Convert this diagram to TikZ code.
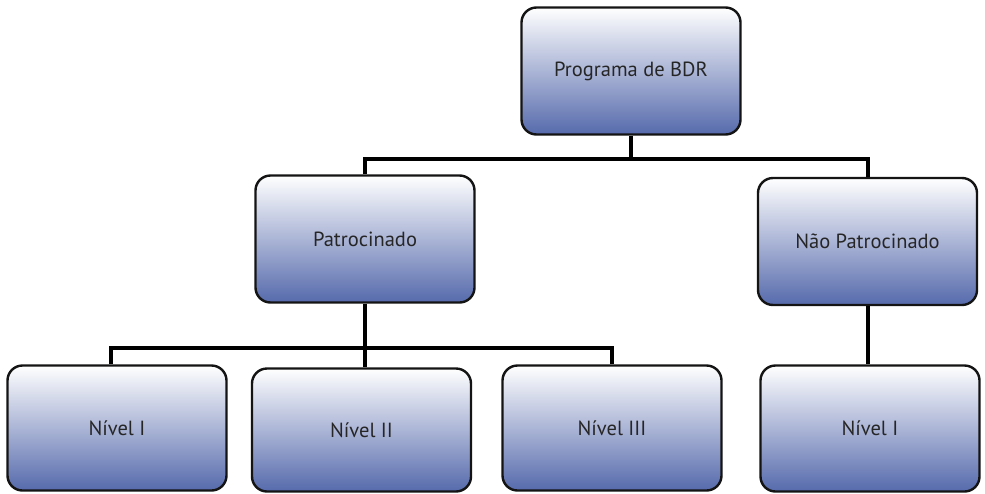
\documentclass[tikz,border=0pt]{standalone}
\usepackage{fontspec}
\setmainfont{PT Sans}
\definecolor{boxblue}{RGB}{86,106,172}
\definecolor{boxline}{RGB}{20,20,20}
\begin{document}
\begin{tikzpicture}[x=1pt,y=-1pt,
  box/.style={draw=boxline, line width=2.4pt, rounded corners=15pt,
    top color=white, bottom color=boxblue, minimum width=219pt, minimum height=127pt,
    inner sep=0pt, font=\fontsize{20.5}{23}\selectfont, text=black!85},
  conn/.style={draw=black, line width=4pt}]
\useasboundingbox (0,0) rectangle (985,493);
\node[box] (top) at (631,71) {Programa de BDR};
\node[box] (pat) at (365,239) {Patrocinado};
\node[box] (np) at (867.5,241.5) {Não Patrocinado};
\node[box, minimum height=125pt] (n1) at (117,428) {Nível I};
\node[box, minimum height=123pt] (n2) at (361.5,430) {Nível II};
\node[box, minimum height=125pt] (n3) at (612,428) {Nível III};
\node[box, minimum height=126pt] (nr) at (870,428.5) {Nível I};
\draw[conn] (top.south) -- ++(0,23) coordinate (j1);
\draw[conn] (pat.north) |- (j1) -| (np.north);
\draw[conn] (pat.south) -- ++(0,44) coordinate (j2);
\draw[conn] ([xshift=-6pt]n1.north) |- (j2) -| (n3.north);
\draw[conn] (j2) -- (j2 |- n2.north);
\draw[conn] (np.south) -- (np.south |- nr.north);
\end{tikzpicture}
\end{document}
